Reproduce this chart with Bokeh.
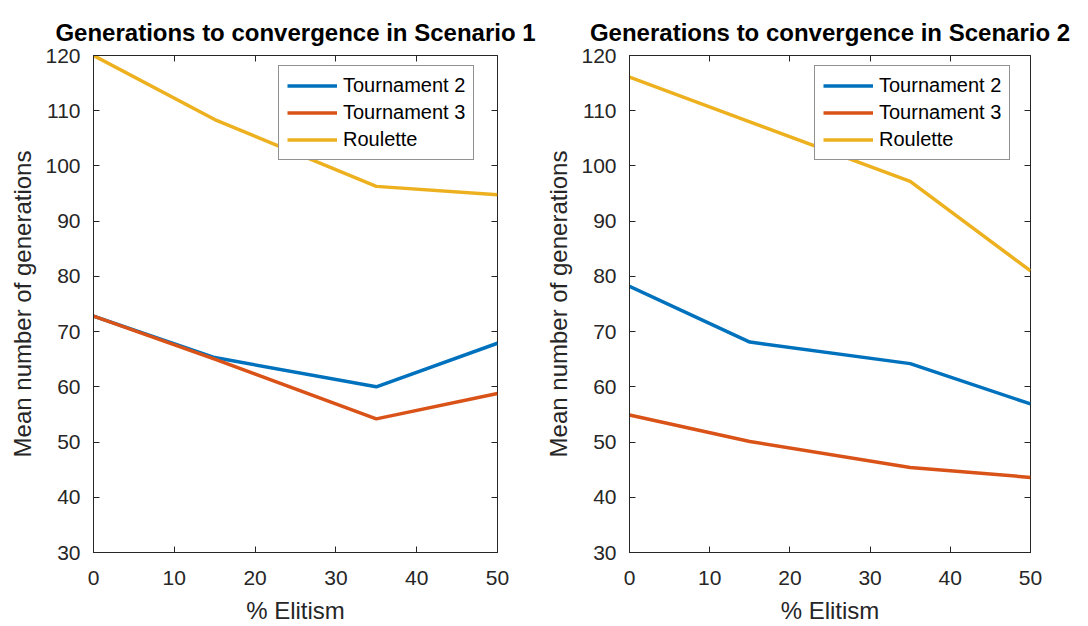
from bokeh.plotting import figure
from bokeh.layouts import row
from bokeh.models import Range1d, LinearAxis, FixedTicker, Legend, LegendItem
from bokeh.embed import file_html
from bokeh.resources import INLINE

# ---- data ----
elitism = [0, 15, 35, 50]
s1_tour2 = [72.8, 65.3, 60.0, 67.9]
s1_tour3 = [72.8, 65.0, 54.2, 58.8]
s1_roulette = [120.0, 108.4, 96.3, 94.8]
s2_tour2 = [78.2, 68.1, 64.2, 56.9]
s2_tour3 = [54.9, 50.1, 45.4, 43.6]
s2_roulette = [116.1, 108.0, 97.2, 81.0]
series_names = ["Tournament 2", "Tournament 3", "Roulette"]
titles = ["Generations to convergence in Scenario 1",
          "Generations to convergence in Scenario 2"]
x_ticks = [0, 10, 20, 30, 40, 50]
y_ticks = [30, 40, 50, 60, 70, 80, 90, 100, 110, 120]
x_label = "% Elitism"
y_label = "Mean number of generations"

colors = ["#0072BD", "#D95319", "#EDB120"]
AX = "#262626"
FONT = "Liberation Sans"


def make_panel(title, series, width, left, right):
    p = figure(width=width, height=626, output_backend="svg", toolbar_location=None,
               x_range=Range1d(0, 50), y_range=Range1d(30, 120),
               min_border_left=left, min_border_right=right,
               min_border_top=55, min_border_bottom=74,
               background_fill_color="white", border_fill_color="white")
    p.title.text = title
    p.title.align = "center"
    p.title.text_font = FONT
    p.title.text_font_size = "24px"
    p.title.text_font_style = "bold"
    p.title.text_color = "black"
    p.title.standoff = 20
    p.outline_line_color = AX
    p.outline_line_width = 1
    p.xgrid.visible = False
    p.ygrid.visible = False

    for ax, ticks in ((p.xaxis[0], x_ticks), (p.yaxis[0], y_ticks)):
        ax.ticker = FixedTicker(ticks=ticks)
        ax.minor_tick_line_color = None
        ax.major_tick_in = 6
        ax.major_tick_out = 0
        ax.major_tick_line_color = AX
        ax.axis_line_color = AX
        ax.major_label_text_font = FONT
        ax.major_label_text_font_size = "21px"
        ax.major_label_text_color = AX
        ax.axis_label_text_font = FONT
        ax.axis_label_text_font_size = "24px"
        ax.axis_label_text_font_style = "normal"
        ax.axis_label_text_color = AX
    p.xaxis[0].axis_label = x_label
    p.yaxis[0].axis_label = y_label
    p.xaxis[0].major_label_standoff = 18
    p.xaxis[0].axis_label_standoff = 9
    p.yaxis[0].major_label_standoff = 13
    p.yaxis[0].axis_label_standoff = 6

    top = LinearAxis(ticker=FixedTicker(ticks=x_ticks), major_tick_in=6, major_tick_out=0,
                     major_label_overrides={t: "" for t in x_ticks},
                     major_label_text_font_size="2px", major_label_standoff=0,
                     axis_line_color=None, major_tick_line_color=AX,
                     minor_tick_line_color=None)
    rgt = LinearAxis(ticker=FixedTicker(ticks=y_ticks), major_tick_in=6, major_tick_out=0,
                     major_label_overrides={t: "" for t in y_ticks},
                     major_label_text_font_size="2px", major_label_standoff=0,
                     axis_line_color=None, major_tick_line_color=AX,
                     minor_tick_line_color=None)
    p.add_layout(top, "above")
    p.add_layout(rgt, "right")

    items = []
    for name, ys, c in zip(series_names, series, colors):
        r = p.line(elitism, ys, line_color=c, line_width=3.5, line_join="round")
        items.append(LegendItem(label=name, renderers=[r]))

    leg = Legend(items=items, location=(185, 392),
                 label_text_font=FONT, label_text_font_size="20px",
                 label_text_color="black",
                 glyph_width=50, glyph_height=23, label_height=23,
                 label_standoff=6, spacing=4, padding=8, margin=0,
                 border_line_color=AX, border_line_width=1,
                 background_fill_color="white", background_fill_alpha=1)
    p.add_layout(leg, "center")
    return p


p1 = make_panel(titles[0], [s1_tour2, s1_tour3, s1_roulette], 542, 93, 45)
p2 = make_panel(titles[1], [s2_tour2, s2_tour3, s2_roulette], 546, 84, 58)
layout = row(p1, p2)

open("out.html", "w").write(file_html(layout, INLINE))
